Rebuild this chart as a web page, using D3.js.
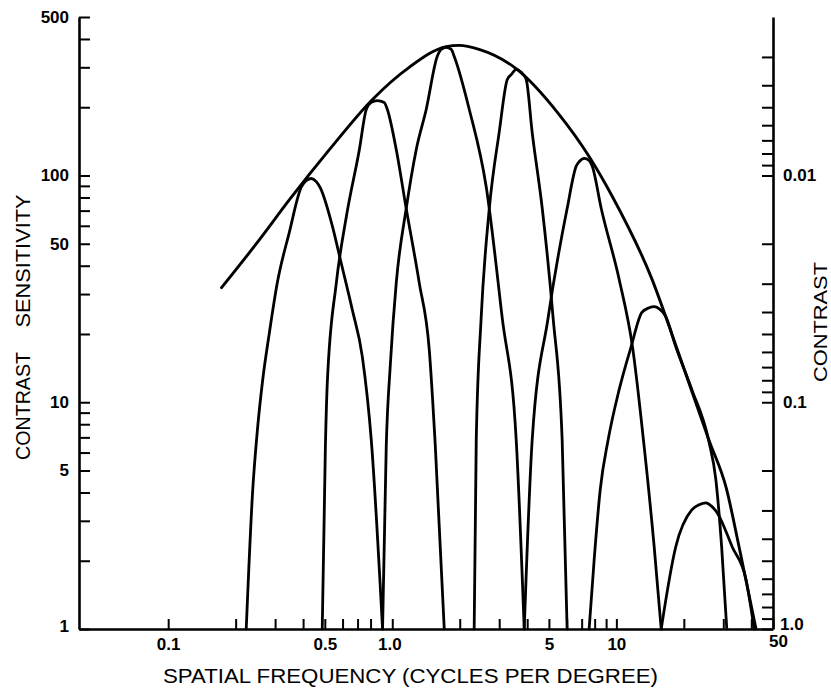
<!DOCTYPE html>
<html>
<head>
<meta charset="utf-8">
<script src="https://cdn.jsdelivr.net/npm/d3@7"></script>
<style>
  html, body { margin: 0; padding: 0; background: #fff; }
  svg { display: block; }
  text { font-family: "Liberation Sans", Arial, sans-serif; fill: #000; }
</style>
</head>
<body>
<svg id="chart" width="831" height="690"></svg>
<script>
// ---- Data (spatial frequency in cycles/deg, contrast sensitivity) ----
const envelope = [
  [0.173, 32], [0.255, 52], [0.347, 78], [0.524, 130], [0.814, 216],
  [1.19, 300], [1.74, 370], [1.99, 375], [2.44, 360], [3.57, 296],
  [5.5, 188], [7.57, 121], [9.58, 81], [14.4, 35], [18.5, 17.6],
  [25.9, 6.8], [30.9, 4.2], [35.3, 2.3], [42.0, 1]
];
const channelA = [
  [0.223, 1], [0.238, 4.0], [0.250, 7.5], [0.264, 12.5], [0.283, 20.3],
  [0.307, 33.7], [0.347, 56], [0.393, 89], [0.414, 95], [0.435, 97],
  [0.458, 94], [0.478, 88], [0.540, 60], [0.592, 41], [0.663, 25.6],
  [0.735, 15.9], [0.806, 6.8], [0.905, 1]
];
const channelB = [
  [0.487, 1], [0.503, 6.4], [0.513, 12.2], [0.563, 33.7], [0.624, 66],
  [0.713, 130], [0.766, 196], [0.806, 210], [0.857, 214], [0.921, 210],
  [0.950, 196], [1.042, 130], [1.154, 71.5], [1.319, 33.7], [1.462, 17.1],
  [1.555, 6.5], [1.706, 1]
];
const channelC = [
  [0.905, 1], [0.940, 6.4], [0.980, 14.6], [1.042, 33.7], [1.154, 71.5],
  [1.279, 130], [1.418, 196], [1.587, 335], [1.654, 360], [1.741, 367],
  [1.833, 360], [1.890, 335], [2.205, 196], [2.626, 89], [3.094, 23.6],
  [3.574, 6.8], [3.880, 1]
];
const channelD = [
  [2.32, 1], [2.37, 6.8], [2.49, 23.1], [2.71, 71.5], [3.00, 155],
  [3.26, 265], [3.40, 279], [3.57, 294], [3.76, 285], [3.96, 265],
  [4.21, 155], [4.67, 71.5], [5.22, 23.6], [5.73, 6.8], [6.03, 1]
];
const channelE = [
  [3.88, 1], [4.21, 6.8], [4.96, 23.6], [6.03, 71.5], [6.62, 110],
  [6.82, 115], [7.19, 119], [7.56, 116.5], [7.80, 110], [8.56, 71.5],
  [10.3, 34.7], [11.8, 17.6], [13.3, 6.4], [14.75, 2.3], [15.85, 1]
];
const channelF = [
  [7.56, 1], [7.96, 2.02], [8.47, 4.11], [9.19, 6.83], [10.29, 11.36],
  [11.64, 17.6], [13.0, 24.9], [14.0, 26.1], [14.75, 26.4], [15.5, 25.9],
  [16.6, 23.9], [18.4, 17.6], [21.7, 11.4], [25.8, 6.8], [27.8, 4.55],
  [29.5, 2.3], [31.1, 1]
];
const channelG = [
  [15.85, 1], [18.4, 2.3], [21.7, 3.35], [23.4, 3.53], [25.1, 3.6],
  [26.5, 3.49], [28.2, 3.25], [32.9, 2.3], [37.9, 1.65], [41.2, 1]
];
const channels = [channelA, channelB, channelC, channelD, channelE, channelF, channelG];

// ---- Ticks and labels ----
const freqTicks = [0.1,0.2,0.3,0.4,0.5,0.6,0.7,0.8,0.9,1,2,3,4,5,6,7,8,9,10,20,30,40,50];
const freqLabelValues = [0.1, 0.5, 1, 5, 10, 50];
const freqLabelText = ["0.1", "0.5", "1.0", "5", "10", "50"];
const sensTicks = [1,2,3,4,5,6,7,8,9,10,20,30,40,50,60,70,80,90,100,200,300,400,500];
const sensLabelValues = [1, 5, 10, 50, 100, 500];
const sensLabelText = ["1", "5", "10", "50", "100", "500"];
const contrastTicks = [0.003,0.004,0.005,0.006,0.007,0.008,0.009,
                       0.01,0.02,0.03,0.04,0.05,0.06,0.07,0.08,0.09,
                       0.1,0.2,0.3,0.4,0.5,0.6,0.7,0.8,0.9,1.0];
const contrastLabelValues = [0.01, 0.1, 1.0];
const contrastLabelText = ["0.01", "0.1", "1.0"];

const xTitle = "SPATIAL FREQUENCY (CYCLES PER DEGREE)";
const yTitleWords = ["CONTRAST", "SENSITIVITY"];
const y2Title = "CONTRAST";

// ---- Layout ----
const svg = d3.select("#chart");
const x = d3.scaleLog().domain([0.04, 50]).range([79, 773]);
const y = d3.scaleLog().domain([1, 500]).range([629, 17]);

function labelFor(values, texts) {
  return v => {
    const i = values.findIndex(u => Math.abs(u - v) / u < 1e-6);
    return i >= 0 ? texts[i] : "";
  };
}

// Bottom axis
const gx = svg.append("g").attr("transform", `translate(0,${y(1)})`)
  .call(d3.axisBottom(x).tickValues(freqTicks)
    .tickFormat(labelFor(freqLabelValues, freqLabelText))
    .tickSize(-10).tickSizeOuter(0).tickPadding(9));

// Left axis
const gy = svg.append("g").attr("transform", `translate(${x(0.04)},0)`)
  .call(d3.axisLeft(y).tickValues(sensTicks)
    .tickFormat(labelFor(sensLabelValues, sensLabelText))
    .tickSize(-11).tickSizeOuter(0).tickPadding(10));

// Right axis (contrast = 1 / sensitivity)
const gy2 = svg.append("g").attr("transform", `translate(${x(50)},0)`)
  .call(d3.axisRight(y).tickValues(contrastTicks.map(c => 1 / c))
    .tickFormat(labelFor(contrastLabelValues.map(c => 1 / c), contrastLabelText))
    .tickSize(-11).tickSizeOuter(0).tickPadding(10));

[gx, gy, gy2].forEach(g => {
  g.select(".domain").attr("stroke", "#000").attr("stroke-width", 2.6);
  g.selectAll(".tick line").attr("stroke", "#000").attr("stroke-width", 2);
  g.selectAll(".tick text")
    .attr("font-family", "'Liberation Sans', Arial, sans-serif")
    .attr("font-size", 17).attr("font-weight", "bold").attr("fill", "#000");
});
// Fine placement of corner labels
gx.selectAll(".tick text").filter(d => d === 50).attr("dx", 5).attr("dy", "0.5em");
gx.selectAll(".tick text").filter(d => d === 1).attr("dx", -3);
gy2.selectAll(".tick text").filter(d => Math.abs(d - 1) < 1e-9).attr("dx", -3).attr("dy", "0.05em");
gy.selectAll(".tick text").filter(d => d === 1).attr("dy", "0.15em");

// ---- Curves ----
const line = d3.line()
  .x(d => x(d[0])).y(d => y(d[1]))
  .curve(d3.curveMonotoneX);

svg.append("g").selectAll("path.channel").data(channels).join("path")
  .attr("class", "channel")
  .attr("d", line)
  .attr("fill", "none").attr("stroke", "#000")
  .attr("stroke-width", 2.8).attr("stroke-linejoin", "round").attr("stroke-linecap", "round");

svg.append("path").datum(envelope)
  .attr("d", line)
  .attr("fill", "none").attr("stroke", "#000")
  .attr("stroke-width", 2.9).attr("stroke-linecap", "round");

// ---- Titles ----
svg.append("text")
  .attr("x", 163).attr("y", 683)
  .attr("font-size", 20)
  .attr("textLength", 495).attr("lengthAdjust", "spacingAndGlyphs")
  .text(xTitle);

svg.append("text")
  .attr("transform", "translate(23,406) rotate(-90)")
  .attr("text-anchor", "middle").attr("dy", "0.36em")
  .attr("font-size", 20)
  .attr("textLength", 108).attr("lengthAdjust", "spacingAndGlyphs")
  .text(yTitleWords[0]);
svg.append("text")
  .attr("transform", "translate(23,261) rotate(-90)")
  .attr("text-anchor", "middle").attr("dy", "0.36em")
  .attr("font-size", 20)
  .attr("textLength", 133).attr("lengthAdjust", "spacingAndGlyphs")
  .text(yTitleWords[1]);

svg.append("text")
  .attr("transform", "translate(820,322) rotate(-90)")
  .attr("text-anchor", "middle").attr("dy", "0.36em")
  .attr("font-size", 19)
  .attr("textLength", 120).attr("lengthAdjust", "spacingAndGlyphs")
  .text(y2Title);
</script>
</body>
</html>
